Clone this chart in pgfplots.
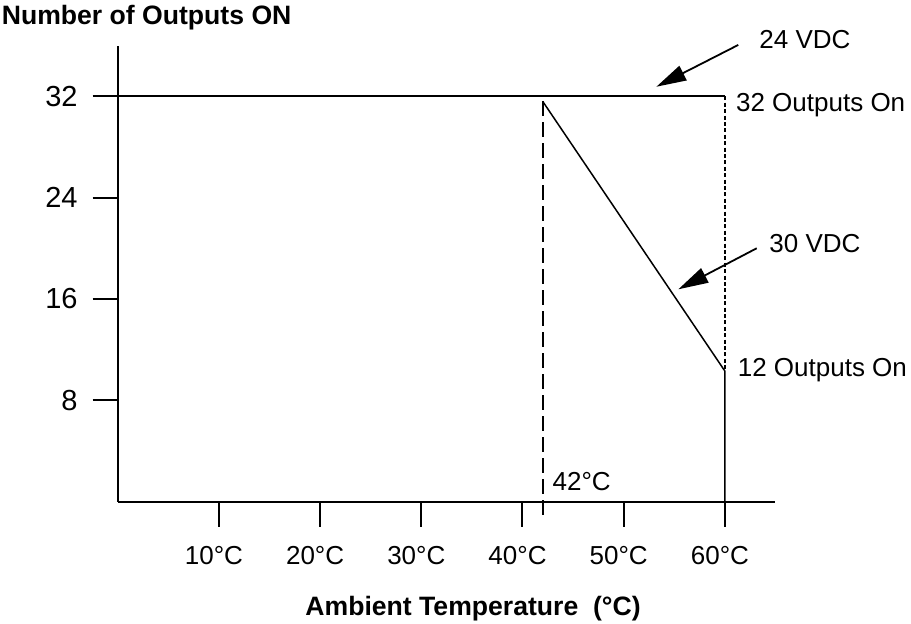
\documentclass[border=0pt]{standalone}
\usepackage{fontspec}
\setmainfont{Liberation Sans}
\usepackage{pgfplots}
\pgfplotsset{compat=1.18}
\usetikzlibrary{arrows.meta}
\newcommand\fs{\fontsize{13bp}{15.6bp}\selectfont}
\newcommand\fb{\fontsize{13.3bp}{16bp}\selectfont\bfseries}
\newcommand\fy{\fontsize{14.5bp}{17.4bp}\selectfont}
\begin{document}
\begin{tikzpicture}[font=\fs]
\useasboundingbox (-58.85bp,-61.25bp) rectangle (396.65bp,250.75bp);
\begin{axis}[
  at={(0,0)}, anchor=south west,
  scale only axis, width=328.9bp, height=227.9bp,
  xmin=0, xmax=65, ymin=0, ymax=36,
  axis lines*=left,
  axis line style={line width=1bp, black},
  every tick/.style={line width=1bp, black},
  tick align=outside, major tick length=12.5bp,
  xtick={10,20,30,40,50,60},
  xticklabels={10°C,20°C,30°C,40°C,50°C,60°C},
  ytick={8,16,24,32},
  yticklabels={8,16,24,32},
  xticklabel style={font=\fs, anchor=base, inner sep=0pt, yshift=-18.75bp, xshift=-2.5bp},
  yticklabel style={font=\fy, anchor=east, inner sep=0pt, xshift=-7.35bp},
  clip=false,
  /pgf/number format/assume math mode=true,
]
% 24 VDC
\addplot[black, line width=0.9bp] coordinates {(0,32) (60,32)};
\addplot[black, line width=0.8bp, dash pattern=on 2bp off 1.2bp] coordinates {(60,32) (60,10.3)};
% 30 VDC
\addplot[black, line width=0.75bp] coordinates {(42,31.6) (60,10.3) (60,0)};
\addplot[black, line width=0.9bp, dash pattern=on 7.5bp off 3bp] coordinates {(42,31.6) (42,-1.45)};
% annotations
\node[anchor=base west, inner sep=0pt, font=\fb] at (axis cs:-11.49,37.64) {Number of Outputs ON};
\node[anchor=base west, inner sep=0pt, font=\fb] at (axis cs:18.51,-8.97) {Ambient Temperature\ \ (°C)};
\node[anchor=base west, inner sep=0pt] at (axis cs:63.37,35.80) {24 VDC};
\node[anchor=base west, inner sep=0pt] at (axis cs:61.07,30.79) {32 Outputs On};
\node[anchor=base west, inner sep=0pt] at (axis cs:64.36,19.68) {30 VDC};
\node[anchor=base west, inner sep=0pt] at (axis cs:61.24,9.86) {12 Outputs On};
\node[anchor=base west, inner sep=0pt] at (axis cs:42.94,0.85) {42°C};
\draw[black, line width=0.9bp, -{Triangle[length=15bp,width=8bp]}] (axis cs:61.32,36.06) -- (axis cs:53.23,32.76);
\draw[black, line width=0.9bp, -{Triangle[length=15bp,width=8bp]}] (axis cs:63.14,20.0) -- (axis cs:55.40,16.76);
\end{axis}
\end{tikzpicture}
\end{document}
